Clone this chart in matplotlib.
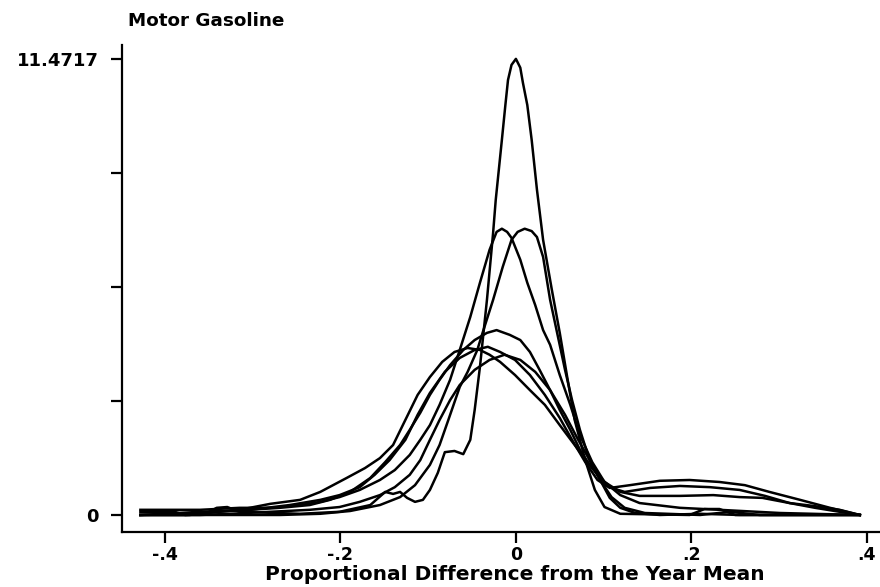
import matplotlib.pyplot as plt
import numpy as np

# kernel density curves (x = proportional difference, y = density)
x_spike = [-0.428, -0.389, -0.377, -0.354, -0.341, -0.329, -0.315, -0.246, -0.201, -0.166,
           -0.149, -0.140, -0.132, -0.124, -0.115, -0.106, -0.098, -0.089, -0.081, -0.070,
           -0.060, -0.052, -0.047, -0.041, -0.033, -0.026, -0.023, -0.016, -0.012, -0.009,
           -0.005, 0.0, 0.005, 0.008, 0.013, 0.018, 0.024, 0.031, 0.041, 0.050,
           0.059, 0.067, 0.079, 0.090, 0.101, 0.119, 0.198, 0.215, 0.232, 0.250, 0.392]
y_spike = [0.08, 0.08, 0.0, 0.03, 0.18, 0.20, 0.08, 0.03, 0.08, 0.25,
           0.58, 0.53, 0.58, 0.43, 0.33, 0.38, 0.63, 1.06, 1.58, 1.61,
           1.53, 1.89, 2.64, 3.72, 5.41, 7.09, 7.92, 9.43, 10.31, 10.94,
           11.32, 11.4717, 11.25, 10.87, 10.31, 9.43, 8.18, 6.92, 5.66, 4.58,
           3.40, 2.39, 1.38, 0.63, 0.20, 0.03, 0.0, 0.15, 0.15, 0.0, 0.0]

x_tall_l = [-0.428, -0.389, -0.360, -0.315, -0.280, -0.246, -0.223, -0.201, -0.178, -0.155,
            -0.138, -0.121, -0.109, -0.098, -0.087, -0.075, -0.064, -0.052, -0.041, -0.030,
            -0.022, -0.016, -0.010, -0.005, 0.005, 0.013, 0.022, 0.031, 0.039, 0.050,
            0.062, 0.073, 0.087, 0.101, 0.119, 0.141, 0.187, 0.232, 0.301, 0.392]
y_tall_l = [0.13, 0.13, 0.13, 0.18, 0.18, 0.25, 0.33, 0.45, 0.63, 0.88,
            1.13, 1.51, 1.89, 2.26, 2.77, 3.40, 4.15, 4.98, 5.84, 6.67,
            7.12, 7.20, 7.12, 6.97, 6.42, 5.84, 5.28, 4.65, 4.28, 3.52,
            2.77, 2.01, 1.33, 0.83, 0.50, 0.30, 0.18, 0.13, 0.05, 0.0]

x_tall_r = [-0.428, -0.269, -0.223, -0.189, -0.155, -0.132, -0.115, -0.098, -0.087, -0.077,
            -0.064, -0.055, -0.044, -0.038, -0.026, -0.015, -0.005, 0.002, 0.010, 0.018,
            0.024, 0.031, 0.039, 0.047, 0.056, 0.064, 0.073, 0.084, 0.096, 0.109,
            0.124, 0.147, 0.210, 0.244, 0.278, 0.392]
y_tall_r = [0.0, 0.0, 0.03, 0.10, 0.25, 0.45, 0.75, 1.26, 1.76, 2.39,
            3.22, 3.60, 4.15, 4.58, 5.41, 6.24, 6.92, 7.12, 7.20, 7.14,
            6.99, 6.49, 5.41, 4.58, 3.65, 2.89, 2.14, 1.38, 0.88, 0.45,
            0.18, 0.05, 0.0, 0.08, 0.0, 0.0]

x_broad1 = [-0.428, -0.360, -0.303, -0.269, -0.235, -0.212, -0.189, -0.166, -0.149, -0.132,
            -0.121, -0.109, -0.098, -0.087, -0.075, -0.060, -0.047, -0.033, -0.022, -0.007,
            0.005, 0.016, 0.027, 0.039, 0.050, 0.062, 0.073, 0.084, 0.096, 0.109,
            0.124, 0.153, 0.187, 0.221, 0.255, 0.284, 0.312, 0.341, 0.369, 0.392]
y_broad1 = [0.0, 0.08, 0.13, 0.18, 0.25, 0.38, 0.58, 0.93, 1.33, 1.76,
            2.14, 2.57, 3.02, 3.40, 3.77, 4.15, 4.40, 4.58, 4.65, 4.53,
            4.40, 4.10, 3.65, 3.14, 2.64, 2.14, 1.64, 1.26, 0.93, 0.68,
            0.58, 0.68, 0.73, 0.70, 0.63, 0.48, 0.30, 0.18, 0.08, 0.0]

x_broad2 = [-0.428, -0.360, -0.315, -0.280, -0.246, -0.223, -0.193, -0.172, -0.155, -0.140,
            -0.126, -0.112, -0.098, -0.084, -0.070, -0.055, -0.041, -0.030, -0.018, -0.001,
            0.016, 0.033, 0.050, 0.067, 0.084, 0.101, 0.119, 0.141, 0.187, 0.225,
            0.255, 0.281, 0.312, 0.338, 0.369, 0.392]
y_broad2 = [0.0, 0.03, 0.13, 0.28, 0.38, 0.58, 0.93, 1.18, 1.43, 1.76,
            2.39, 3.02, 3.47, 3.85, 4.10, 4.20, 4.15, 4.03, 3.85, 3.52,
            3.14, 2.77, 2.26, 1.76, 1.26, 0.83, 0.58, 0.48, 0.48, 0.50,
            0.45, 0.43, 0.30, 0.23, 0.13, 0.0]

x_broad3 = [-0.428, -0.372, -0.343, -0.303, -0.258, -0.223, -0.201, -0.178, -0.161, -0.144,
            -0.126, -0.112, -0.098, -0.081, -0.064, -0.047, -0.032, -0.018, -0.001, 0.016,
            0.033, 0.050, 0.064, 0.079, 0.093, 0.107, 0.130, 0.164, 0.198, 0.232,
            0.261, 0.289, 0.324, 0.358, 0.392]
y_broad3 = [0.0, 0.0, 0.08, 0.13, 0.25, 0.38, 0.50, 0.70, 1.01, 1.38,
            1.89, 2.52, 3.07, 3.60, 3.95, 4.15, 4.23, 4.10, 3.90, 3.52,
            3.02, 2.44, 1.89, 1.33, 0.88, 0.68, 0.75, 0.86, 0.88, 0.83,
            0.75, 0.58, 0.38, 0.18, 0.0]

x_broad4 = [-0.428, -0.360, -0.326, -0.280, -0.235, -0.201, -0.178, -0.155, -0.138, -0.121,
            -0.109, -0.098, -0.087, -0.075, -0.064, -0.047, -0.030, -0.013, 0.005, 0.022,
            0.039, 0.056, 0.071, 0.084, 0.096, 0.107, 0.119, 0.136, 0.164, 0.210,
            0.255, 0.392]
y_broad4 = [0.0, 0.0, 0.03, 0.08, 0.13, 0.20, 0.33, 0.50, 0.70, 1.01,
            1.38, 1.89, 2.39, 2.89, 3.27, 3.65, 3.90, 4.03, 3.90, 3.60,
            3.14, 2.52, 1.89, 1.38, 0.88, 0.43, 0.18, 0.05, 0.0, 0.03,
            0.0, 0.0]

curves = [(x_spike, y_spike), (x_tall_l, y_tall_l), (x_tall_r, y_tall_r),
          (x_broad1, y_broad1), (x_broad2, y_broad2), (x_broad3, y_broad3),
          (x_broad4, y_broad4)]

y_max = 11.4717
x_ticks = [-0.4, -0.2, 0, 0.2, 0.4]
x_tick_labels = ['-.4', '-.2', '0', '.2', '.4']

plt.rcParams['font.family'] = ['DejaVu Sans']

fig = plt.figure(figsize=(8.8, 5.87), dpi=100)
ax = fig.add_axes([0.1386, 0.0937, 0.8614, 0.8296])

for xs, ys in curves:
    ax.plot(xs, ys, color='black', lw=1.8, solid_joinstyle='round')

ax.set_xlim(-0.449, 0.415)
ax.set_ylim(-0.428, 11.82)

ax.spines['top'].set_visible(False)
ax.spines['right'].set_visible(False)
ax.spines['left'].set_linewidth(1.6)
ax.spines['bottom'].set_linewidth(1.6)

ax.set_xticks(x_ticks)
ax.set_xticklabels(x_tick_labels, fontsize=12.5, fontweight='bold')
ax.set_yticks(np.linspace(0, y_max, 5))
ax.set_yticklabels(['0', '', '', '', '11.4717'], fontsize=13, fontweight='bold')
ax.tick_params(direction='out', length=8, width=1.6)
ax.tick_params(axis='x', pad=2)
ax.tick_params(axis='y', pad=9)

# label sits centred under zero, as in the original
ax.set_xlabel('Proportional Difference from the Year Mean', fontsize=14.5,
              fontweight='bold', labelpad=0.5, x=0.518)
fig.text(0.145, 1 - 12 / 587, 'Motor Gasoline', fontsize=13.2, fontweight='bold',
         va='top', ha='left')

fig.savefig('out.png', dpi=100)
